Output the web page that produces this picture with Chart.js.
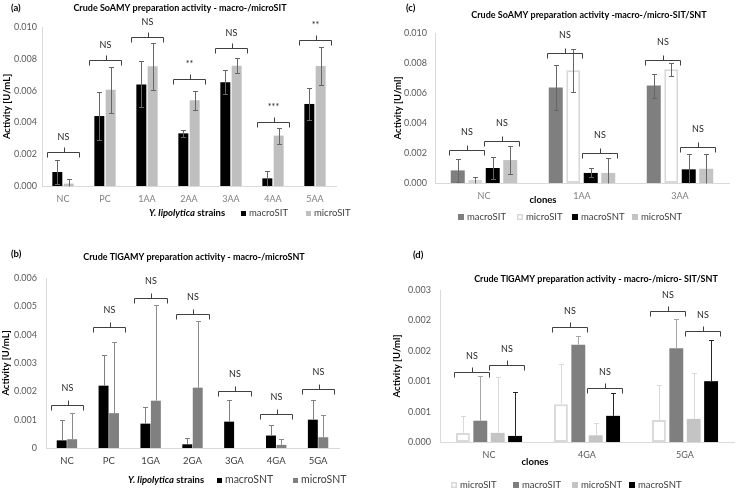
<!DOCTYPE html>
<html>
<head>
<meta charset="utf-8">
<script src="https://cdn.jsdelivr.net/npm/chart.js@4.4.1/dist/chart.umd.min.js"></script>
<style>
  html, body { margin: 0; padding: 0; background: #fff; }
  #contenedor { position: relative; width: 739px; height: 492px; }
  canvas { position: absolute; }
</style>
</head>
<body>
<div id="contenedor">
  <canvas id="grafica-a" width="370" height="240" style="left:0;top:0"></canvas>
  <canvas id="grafica-b" width="370" height="252" style="left:0;top:240px"></canvas>
  <canvas id="grafica-c" width="369" height="240" style="left:370px;top:0"></canvas>
  <canvas id="grafica-d" width="369" height="252" style="left:370px;top:240px"></canvas>
</div>
<script>
const FUENTE = 'Lato';
Chart.defaults.font.family = FUENTE;
Chart.defaults.color = '#595959';

// (a) SoAMY macro-/microSIT
const categoriasA = ['NC', 'PC', '1AA', '2AA', '3AA', '4AA', '5AA'];
const macroSIT_A = [0.00088, 0.0044, 0.00639, 0.00331, 0.00652, 0.00048, 0.00516];
const macroSIT_A_err = [0.00075, 0.0015, 0.00145, 0.0002, 0.00075, 0.00048, 0.001];
const microSIT_A = [0.00015, 0.00606, 0.00753, 0.00539, 0.00757, 0.00317, 0.00755];
const microSIT_A_err = [0.0003, 0.00145, 0.00147, 0.0006, 0.00046, 0.0005, 0.00117];
const nivelesA = [0.00214, 0.00792, 0.00939, 0.00671, 0.00868, 0.004, 0.00916];
const etiquetasA = ['NS', 'NS', 'NS', '**', 'NS', '***', '**'];
const ticksA = ['0.000', '0.002', '0.004', '0.006', '0.008', '0.010'];

// (b) TlGAMY macro-/microSNT
const categoriasB = ['NC', 'PC', '1GA', '2GA', '3GA', '4GA', '5GA'];
const macroSNT_B = [0.00027, 0.0022, 0.00086, 0.00013, 0.00093, 0.00044, 0.001];
const macroSNT_B_err = [0.00072, 0.0011, 0.0006, 0.00024, 0.00078, 0.00037, 0.00069];
const microSNT_B = [0.00031, 0.00123, 0.00167, 0.00213, 0, 0.00011, 0.00038];
const microSNT_B_err = [0.00092, 0.00251, 0.00337, 0.00236, 0, 0.00021, 0.00078];
const nivelesB = [0.00151, 0.00426, 0.00529, 0.00473, 0.00202, 0.00119, 0.00208];
const etiquetasB = ['NS', 'NS', 'NS', 'NS', 'NS', 'NS', 'NS'];
const ticksB = ['0', '0.001', '0.002', '0.003', '0.004', '0.005', '0.006'];

// (c) SoAMY macro-/micro-SIT/SNT
const categoriasC = ['NC', '1AA', '3AA'];
const macroSIT_C = [0.00084, 0.00636, 0.0065];
const macroSIT_C_err = [0.00075, 0.0015, 0.0008];
const microSIT_C = [0.0002, 0.00752, 0.00758];
const microSIT_C_err = [0.00022, 0.00144, 0.00045];
const macroSNT_C = [0.001, 0.00067, 0.00091];
const macroSNT_C_err = [0.00073, 0.0003, 0.001];
const microSNT_C = [0.00153, 0.00067, 0.00095];
const microSNT_C_err = [0.00093, 0.00097, 0.001];
const nivelesSIT_C = [0.00217, 0.00869, 0.00823];
const nivelesSNT_C = [0.00282, 0.00202, 0.00242];
const etiquetasC = ['NS', 'NS', 'NS'];
const ticksC = ['0.000', '0.002', '0.004', '0.006', '0.008', '0.010'];

// (d) TlGAMY macro-/micro- SIT/SNT
const categoriasD = ['NC', '4GA', '5GA'];
const microSIT_D = [0.00015, 0.00062, 0.00036];
const microSIT_D_err = [0.00028, 0.00067, 0.00058];
const macroSIT_D = [0.00035, 0.0016, 0.00154];
const macroSIT_D_err = [0.00073, 0.00015, 0.00049];
const microSNT_D = [0.00015, 0.00011, 0.00038];
const microSNT_D_err = [0.00092, 0.00021, 0.00076];
const macroSNT_D = [0.0001, 0.00043, 0.001];
const macroSNT_D_err = [0.00072, 0.00038, 0.00068];
const nivelesSIT_D = [0.00115, 0.00189, 0.00215];
const nivelesSNT_D = [0.00126, 0.00088, 0.00183];
const etiquetasD = ['NS', 'NS', 'NS'];
const ticksD = ['0.000', '0.001', '0.001', '0.002', '0.002', '0.003'];

// barras de error
const pluginErrores = {
  id: 'errores',
  afterDatasetsDraw(chart, args, o) {
    const ctx = chart.ctx;
    const escala = chart.scales.y;
    chart.data.datasets.forEach((ds, i) => {
      if (!ds.errores) return;
      const meta = chart.getDatasetMeta(i);
      ctx.save();
      ctx.strokeStyle = ds.colorError || o.color;
      ctx.lineWidth = 1;
      meta.data.forEach((barra, j) => {
        const v = ds.data[j], e = ds.errores[j];
        if (!e) return;
        const arriba = Math.round(escala.getPixelForValue(v + e)) + 0.5;
        const abajo = o.soloArriba ? escala.getPixelForValue(v) : Math.round(escala.getPixelForValue(Math.max(0, v - e))) + 0.5;
        const x = Math.round(barra.x) + 0.5;
        ctx.beginPath();
        ctx.moveTo(x, arriba);
        ctx.lineTo(x, abajo);
        ctx.moveTo(x - o.tapa, arriba);
        ctx.lineTo(x + o.tapa, arriba);
        if (!o.soloArriba && v - e > 0) {
          ctx.moveTo(x - o.tapa, abajo);
          ctx.lineTo(x + o.tapa, abajo);
        }
        ctx.stroke();
      });
      ctx.restore();
    });
  }
};

// corchetes de significancia
const pluginCorchetes = {
  id: 'corchetes',
  afterDatasetsDraw(chart, args, o) {
    const ctx = chart.ctx;
    const escala = chart.scales.y;
    ctx.save();
    ctx.strokeStyle = o.color;
    ctx.fillStyle = o.colorTexto;
    ctx.lineWidth = 1;
    ctx.font = `${o.tam}px ${FUENTE}`;
    ctx.textAlign = 'center';
    ctx.textBaseline = 'middle';
    o.items.forEach(c => {
      const b1 = chart.getDatasetMeta(c.a).data[c.cat];
      const b2 = chart.getDatasetMeta(c.b).data[c.cat];
      const x1 = Math.round(b1.x - b1.width / 2 - o.extra) + 0.5;
      const x2 = Math.round(b2.x + b2.width / 2 + o.extra) + 0.5;
      const xm = Math.round((x1 + x2) / 2) + 0.5;
      const yy = Math.round(escala.getPixelForValue(c.nivel)) + 0.5;
      ctx.beginPath();
      ctx.moveTo(x1, yy + o.pata);
      ctx.lineTo(x1, yy);
      ctx.lineTo(x2, yy);
      ctx.lineTo(x2, yy + o.pata);
      ctx.moveTo(xm, yy);
      ctx.lineTo(xm, yy - o.pata);
      ctx.stroke();
      ctx.fillText(c.texto, (x1 + x2) / 2, yy - o.sep);
    });
    ctx.restore();
  }
};

// titulo, letra del panel, titulo del eje x y leyenda
const pluginTextos = {
  id: 'textos',
  afterDraw(chart, args, o) {
    const ctx = chart.ctx;
    ctx.save();
    ctx.textBaseline = 'middle';
    ctx.fillStyle = '#000';
    ctx.textAlign = 'left';
    ctx.font = `bold ${o.tamLetra}px ${FUENTE}`;
    ctx.fillText(o.letra, o.letraX, o.letraY);
    ctx.textAlign = 'center';
    ctx.font = `bold ${o.tamTitulo}px ${FUENTE}`;
    ctx.fillText(o.titulo, o.tituloX, o.tituloY);

    // titulo eje x (partes en cursiva o no)
    ctx.textAlign = 'left';
    const fuentes = o.ejeX.partes.map(p => `${p.cursiva ? 'italic ' : ''}bold ${o.ejeX.tam}px ${FUENTE}`);
    let total = 0;
    o.ejeX.partes.forEach((p, i) => { ctx.font = fuentes[i]; total += ctx.measureText(p.texto).width; });
    let x = o.ejeX.centrado ? o.ejeX.x - total / 2 : o.ejeX.x;
    o.ejeX.partes.forEach((p, i) => {
      ctx.font = fuentes[i];
      ctx.fillText(p.texto, x, o.ejeX.y);
      x += ctx.measureText(p.texto).width;
    });

    // leyenda
    const L = o.leyenda;
    ctx.font = `${L.tam}px ${FUENTE}`;
    chart.data.datasets.forEach((ds, i) => {
      const lx = L.x[i];
      const top = Math.round(L.y - L.cuadro / 2);
      ctx.fillStyle = ds.backgroundColor;
      ctx.fillRect(lx, top, L.cuadro, L.cuadro);
      if (ds.borderWidth) {
        ctx.strokeStyle = ds.borderColor;
        ctx.lineWidth = 1.5;
        ctx.strokeRect(lx + 0.75, top + 0.75, L.cuadro - 1.5, L.cuadro - 1.5);
      }
      ctx.fillStyle = '#404040';
      ctx.fillText(ds.label, lx + L.cuadro + L.hueco, L.y);
    });
    ctx.restore();
  }
};

const hacerCorchetes = (niveles, etiquetas, a, b) =>
  niveles.map((nivel, i) => ({cat: i, a: a, b: b, nivel: nivel, texto: etiquetas[i]}));

const serie = (label, data, errores, color, extra) =>
  Object.assign({label: label, data: data, errores: errores, backgroundColor: color, borderWidth: 0}, extra || {});

const dibujarPanel = (idCanvas, p) => {
  new Chart(document.getElementById(idCanvas), {
    type: 'bar',
    data: {labels: p.categorias, datasets: p.series},
    options: {
      responsive: false,
      animation: false,
      events: [],
      layout: {padding: p.padding},
      datasets: {bar: {categoryPercentage: p.cp, barPercentage: p.bp}},
      scales: {
        x: {
          grid: {display: false, drawTicks: false},
          border: {color: '#d9d9d9'},
          ticks: {padding: p.padX, color: p.colorX, font: {size: p.tamX}},
          afterFit: s => { s.height = 20; }
        },
        y: {
          min: 0,
          max: p.max,
          grid: {display: false, drawTicks: false},
          border: {color: '#d9d9d9'},
          ticks: {stepSize: p.paso, padding: p.padY, color: '#595959', font: {size: 9}, callback: (v, i) => p.ticks[i]},
          title: {display: true, text: p.tituloY, color: '#000', font: {size: 9.5, weight: 'bold'}, padding: {top: p.padTituloY, bottom: 0}},
          afterFit: s => { s.width = p.anchoY; }
        }
      },
      plugins: {
        legend: {display: false},
        tooltip: {enabled: false},
        errores: {color: '#666666', tapa: 2.5, soloArriba: p.soloArriba},
        corchetes: {items: p.corchetes, color: '#404040', colorTexto: '#262626', tam: 9, extra: p.extra, pata: 5, sep: p.sep},
        textos: p.textos
      }
    },
    plugins: [pluginErrores, pluginCorchetes, pluginTextos]
  });
};

dibujarPanel('grafica-a', {
  categorias: categoriasA,
  series: [
    serie('macroSIT', macroSIT_A, macroSIT_A_err, '#000000'),
    serie('microSIT', microSIT_A, microSIT_A_err, '#bfbfbf')
  ],
  padding: {left: 0, top: 27, right: 34, bottom: 34},
  cp: 0.54, bp: 0.88,
  max: 0.01, paso: 0.002, ticks: ticksA,
  padX: 8, colorX: '#7f7f7f', tamX: 9, padY: 5, anchoY: 42,
  tituloY: 'Activity [U/mL]', padTituloY: 1,
  soloArriba: false,
  corchetes: hacerCorchetes(nivelesA, etiquetasA, 0, 1),
  extra: 5.5, sep: 15,
  textos: {
    letra: '(a)', letraX: 11, letraY: 8, tamLetra: 9.5,
    titulo: 'Crude SoAMY preparation activity - macro-/microSIT', tituloX: 180, tituloY: 8, tamTitulo: 9,
    ejeX: {partes: [{texto: 'Y. lipolytica', cursiva: true}, {texto: ' strains'}], x: 149, y: 213, tam: 9.5, centrado: false},
    leyenda: {x: [241, 306], y: 213, cuadro: 5, hueco: 3, tam: 9.5}
  }
});

dibujarPanel('grafica-b', {
  categorias: categoriasB,
  series: [
    serie('macroSNT', macroSNT_B, macroSNT_B_err, '#000000', {colorError: '#7f7f7f'}),
    serie('microSNT', microSNT_B, microSNT_B_err, '#808080', {colorError: '#8c8c8c'})
  ],
  padding: {left: 0, top: 38, right: 31, bottom: 24},
  cp: 0.5, bp: 0.95,
  max: 0.006, paso: 0.001, ticks: ticksB,
  padX: 7, colorX: '#404040', tamX: 9.5, padY: 9, anchoY: 46,
  tituloY: 'Activity [U/mL]', padTituloY: 0,
  soloArriba: true,
  corchetes: hacerCorchetes(nivelesB, etiquetasB, 0, 1),
  extra: 6, sep: 17,
  textos: {
    letra: '(b)', letraX: 11, letraY: 14, tamLetra: 9.5,
    titulo: 'Crude TlGAMY preparation activity - macro-/microSNT', tituloX: 194, tituloY: 17, tamTitulo: 9,
    ejeX: {partes: [{texto: 'Y. lipolytica', cursiva: true}, {texto: ' strains'}], x: 128, y: 240, tam: 9.5, centrado: false},
    leyenda: {x: [217, 293], y: 240, cuadro: 5, hueco: 3, tam: 10.5}
  }
});

dibujarPanel('grafica-c', {
  categorias: categoriasC,
  series: [
    serie('macroSIT', macroSIT_C, macroSIT_C_err, '#7f7f7f'),
    serie('microSIT', microSIT_C, microSIT_C_err, '#ffffff', {borderColor: '#d9d9d9', borderWidth: 2, borderSkipped: false}),
    serie('macroSNT', macroSNT_C, macroSNT_C_err, '#000000'),
    serie('microSNT', microSNT_C, microSNT_C_err, '#c4c4c4')
  ],
  padding: {left: 20, top: 33, right: 10, bottom: 37},
  cp: 0.714, bp: 0.8,
  max: 0.01, paso: 0.002, ticks: ticksC,
  padX: 8, colorX: '#7f7f7f', tamX: 9, padY: 8, anchoY: 45,
  tituloY: 'Activity [U/ml]', padTituloY: 2,
  soloArriba: false,
  corchetes: hacerCorchetes(nivelesSIT_C, etiquetasC, 0, 1).concat(hacerCorchetes(nivelesSNT_C, etiquetasC, 2, 3)),
  extra: 1.5, sep: 18,
  textos: {
    letra: '(c)', letraX: 36, letraY: 8, tamLetra: 9.5,
    titulo: 'Crude SoAMY preparation activity -macro-/micro-SIT/SNT', tituloX: 219, tituloY: 15, tamTitulo: 9,
    ejeX: {partes: [{texto: 'clones'}], x: 173, y: 200, tam: 9.5, centrado: true},
    leyenda: {x: [88, 147, 202, 262], y: 217, cuadro: 6, hueco: 3, tam: 9.5}
  }
});

dibujarPanel('grafica-d', {
  categorias: categoriasD,
  series: [
    serie('microSIT', microSIT_D, microSIT_D_err, '#ffffff', {borderColor: '#d9d9d9', borderWidth: 2, borderSkipped: false, colorError: '#d9d9d9'}),
    serie('macroSIT', macroSIT_D, macroSIT_D_err, '#7f7f7f', {colorError: '#a6a6a6'}),
    serie('microSNT', microSNT_D, microSNT_D_err, '#c4c4c4', {colorError: '#d9d9d9'}),
    serie('macroSNT', macroSNT_D, macroSNT_D_err, '#000000', {colorError: '#262626'})
  ],
  padding: {left: 20, top: 50, right: 5, bottom: 30},
  cp: 0.71, bp: 0.8,
  max: 0.0025, paso: 0.0005, ticks: ticksD,
  padX: 8, colorX: '#595959', tamX: 9, padY: 9, anchoY: 50,
  tituloY: 'Activity [U/ml]', padTituloY: 1,
  soloArriba: true,
  corchetes: hacerCorchetes(nivelesSIT_D, etiquetasD, 0, 1).concat(hacerCorchetes(nivelesSNT_D, etiquetasD, 2, 3)),
  extra: 1.5, sep: 16,
  textos: {
    letra: '(d)', letraX: 43, letraY: 15, tamLetra: 9.5,
    titulo: 'Crude TlGAMY preparation activity - macro-/micro- SIT/SNT', tituloX: 226, tituloY: 39, tamTitulo: 9,
    ejeX: {partes: [{texto: 'clones'}], x: 165, y: 222, tam: 9.5, centrado: true},
    leyenda: {x: [81, 143, 202, 259], y: 245, cuadro: 6, hueco: 3, tam: 9.5}
  }
});
</script>
</body>
</html>
